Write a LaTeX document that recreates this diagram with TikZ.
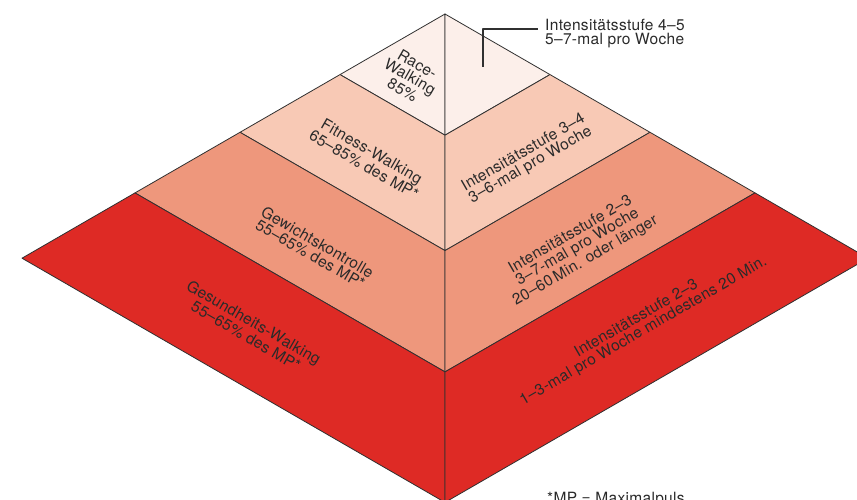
\documentclass[tikz,border=0pt]{standalone}
\usepackage{fontspec}
\setmainfont[LetterSpace=2]{TeX Gyre Heros}
\definecolor{edge}{HTML}{303030}
\definecolor{txt}{HTML}{2A2A2A}
\definecolor{lay1}{HTML}{FCEFEA}
\definecolor{lay2}{HTML}{F8C9B5}
\definecolor{lay3}{HTML}{EE977C}
\definecolor{lay4}{HTML}{DE2A25}
\newcommand{\lblfont}{\fontsize{15.5}{14.2}\selectfont}
\begin{document}
\begin{tikzpicture}[x=1pt,y=-1pt,line join=round]
\tikzset{
  face/.style={draw=edge,line width=0.8pt},
  lbl/.style={text=txt,font=\lblfont,align=center,inner sep=0pt},
  callout/.style={draw=edge,line width=1.4pt},
}
\useasboundingbox (0,0) rectangle (857,500);
\clip (0,0) rectangle (857,500);
% key points
\coordinate (A) at (445,14);
\coordinate (L1) at (340,74.6);
\coordinate (L2) at (240,132.3);
\coordinate (L3) at (135,192.9);
\coordinate (L0) at (22,258.2);
\coordinate (C1) at (445,135.2);
\coordinate (C2) at (445,250.6);
\coordinate (C3) at (445,371.9);
\coordinate (B) at (445,502.4);
\coordinate (R1) at (550,74.6);
\coordinate (R2) at (650,132.3);
\coordinate (R3) at (755,192.9);
\coordinate (R0) at (868,258.2);
% layers
\filldraw[face,fill=lay1] (A) -- (L1) -- (C1) -- cycle;
\filldraw[face,fill=lay1] (A) -- (C1) -- (R1) -- cycle;
\filldraw[face,fill=lay2] (L1) -- (L2) -- (C2) -- (C1) -- cycle;
\filldraw[face,fill=lay2] (C1) -- (C2) -- (R2) -- (R1) -- cycle;
\filldraw[face,fill=lay3] (L2) -- (L3) -- (C3) -- (C2) -- cycle;
\filldraw[face,fill=lay3] (C2) -- (C3) -- (R3) -- (R2) -- cycle;
\filldraw[face,fill=lay4] (L3) -- (L0) -- (B) -- (C3) -- cycle;
\filldraw[face,fill=lay4] (C3) -- (B) -- (R0) -- (R3) -- cycle;
% left labels
\node[lbl,rotate=-30] (race) at (410,77) {Race-\\Walking\\85\%};
\node[lbl,rotate=-30] (fit) at (368,158) {Fitness-Walking\\65–85\% des MP*};
\node[lbl,rotate=-30] (gew) at (314,248) {Gewichtskontrolle\\55–65\% des MP*};
\node[lbl,rotate=-30] (ges) at (250,329) {Gesundheits-Walking\\55–65\% des MP*};
% right labels
\node[lbl,rotate=30] (i34) at (527,159) {Intensitätsstufe 3–4\\3–6-mal pro Woche};
\node[lbl,rotate=30] (i23a) at (578,248) {Intensitätsstufe 2–3\\3–7-mal pro Woche\\20–60\,Min. oder länger};
\node[lbl,rotate=30] (i23b) at (640,325) {Intensitätsstufe 2–3\\1–3-mal pro Woche mindestens 20 Min.};
% callout
\node[lbl,align=left,anchor=north west] (i45) at (545,19) {Intensitätsstufe 4–5\\5–7-mal pro Woche};
\coordinate (cp) at (483,67);
\coordinate (ce) at (538,29);
\draw[callout] (cp) |- (ce);
% footnote
\node[lbl,anchor=base west] (fn) at (547,503) {*MP = Maximalpuls};
\end{tikzpicture}
\end{document}
